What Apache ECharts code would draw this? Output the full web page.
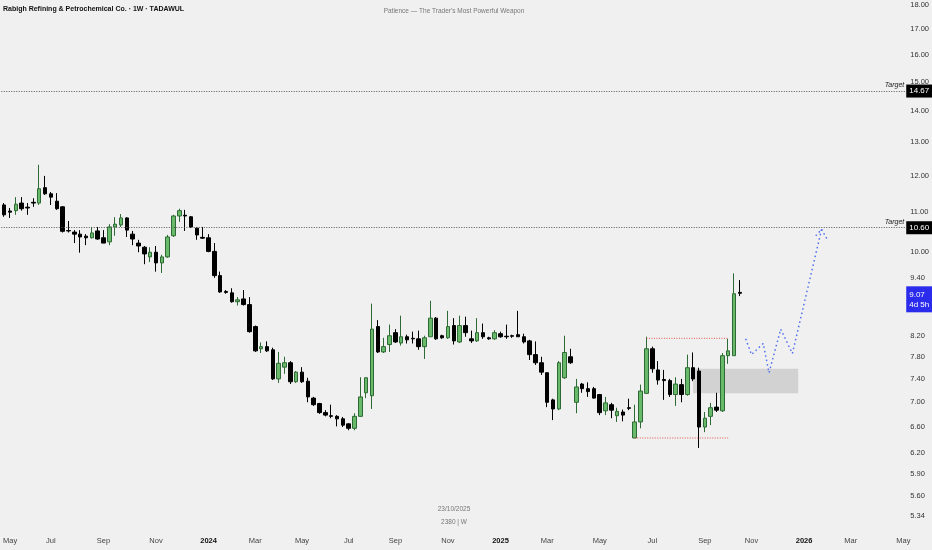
<!DOCTYPE html>
<html>
<head>
<meta charset="utf-8">
<script src="https://cdn.jsdelivr.net/npm/echarts@6/dist/echarts.min.js"></script>
<style>
  html, body { margin: 0; padding: 0; background: #f0f0f0; }
  #chart { width: 932px; height: 550px; }
</style>
</head>
<body>
<div id="chart"></div>
<script>
// weekly bars (Sunday open), weeks with no trading are skipped
var firstWeek = '2023-04-30';
var skippedWeeks = ['2023-06-25', '2024-04-07', '2024-06-16'];
var weekCount = 155;

// [open, high, low, close] for each traded week
var weeklyOHLC = [
    [11.19, 11.24, 10.88, 10.93], [11.03, 11.11, 10.85, 11.00], [11.04, 11.40, 10.93, 11.21], [11.24, 11.40, 11.04, 11.09],
    [11.13, 11.24, 10.93, 11.11], [11.26, 11.37, 11.14, 11.24], [11.24, 12.31, 11.19, 11.63], [11.66, 11.99, 11.46, 11.49],
    [11.49, 11.54, 11.19, 11.40], [11.29, 11.51, 11.06, 11.09], [11.14, 11.16, 10.48, 10.51], [10.53, 10.77, 10.48, 10.52],
    [10.49, 10.54, 10.22, 10.44], [10.44, 10.54, 9.99, 10.37], [10.39, 10.44, 10.17, 10.35], [10.35, 10.62, 10.33, 10.47],
    [10.52, 10.62, 10.30, 10.32], [10.35, 10.54, 10.22, 10.22], [10.25, 10.69, 10.17, 10.62], [10.62, 10.87, 10.40, 10.69],
    [10.67, 10.95, 10.62, 10.85], [10.85, 10.87, 10.37, 10.54], [10.44, 10.52, 10.17, 10.32], [10.22, 10.30, 10.00, 10.15],
    [10.12, 10.15, 9.72, 9.96], [9.89, 10.12, 9.77, 10.00], [10.00, 10.15, 9.55, 9.75], [9.75, 9.94, 9.52, 9.89],
    [9.89, 10.42, 9.87, 10.37], [10.40, 10.93, 10.37, 10.90], [10.90, 11.09, 10.75, 11.04], [10.92, 11.06, 10.52, 10.90],
    [10.88, 10.90, 10.60, 10.62], [10.59, 10.62, 10.30, 10.42], [10.36, 10.62, 10.32, 10.34], [10.35, 10.44, 10.00, 10.02],
    [10.02, 10.22, 9.41, 9.46], [9.46, 9.55, 9.08, 9.10], [9.11, 9.14, 9.06, 9.09], [9.08, 9.18, 8.87, 8.89],
    [8.89, 8.99, 8.81, 8.93], [8.95, 9.14, 8.81, 8.83], [8.83, 8.99, 8.26, 8.28], [8.38, 8.40, 7.89, 7.91],
    [7.95, 8.07, 7.87, 7.99], [7.99, 8.09, 7.89, 7.91], [7.93, 7.97, 7.38, 7.40], [7.40, 7.89, 7.33, 7.68],
    [7.61, 7.80, 7.49, 7.69], [7.69, 7.72, 7.31, 7.35], [7.35, 7.54, 7.33, 7.52], [7.52, 7.61, 7.33, 7.35],
    [7.36, 7.42, 7.00, 7.09], [7.07, 7.09, 6.94, 6.96], [6.98, 6.99, 6.81, 6.83], [6.83, 6.87, 6.77, 6.79],
    [6.78, 6.96, 6.74, 6.77], [6.77, 6.79, 6.61, 6.73], [6.73, 6.76, 6.60, 6.63], [6.65, 6.66, 6.55, 6.58],
    [6.58, 6.82, 6.55, 6.77], [6.77, 7.43, 6.76, 7.09], [7.16, 7.43, 7.07, 7.42], [7.11, 8.85, 6.89, 8.33],
    [8.38, 8.51, 7.87, 7.89], [7.89, 8.16, 7.87, 7.99], [8.03, 8.42, 7.89, 8.20], [8.26, 8.33, 8.06, 8.08],
    [8.06, 8.60, 8.01, 8.18], [8.18, 8.22, 8.05, 8.12], [8.15, 8.28, 8.05, 8.14], [8.14, 8.30, 7.93, 7.99],
    [7.99, 8.20, 7.76, 8.16], [8.18, 8.91, 8.18, 8.55], [8.55, 8.57, 8.12, 8.14], [8.20, 8.22, 8.14, 8.16],
    [8.16, 8.70, 8.14, 8.38], [8.40, 8.55, 8.03, 8.10], [8.08, 8.60, 8.06, 8.40], [8.40, 8.58, 8.18, 8.26],
    [8.14, 8.30, 8.06, 8.10], [8.10, 8.55, 8.08, 8.26], [8.26, 8.44, 8.14, 8.18], [8.16, 8.18, 8.12, 8.14],
    [8.14, 8.31, 8.12, 8.26], [8.24, 8.28, 8.16, 8.18], [8.19, 8.42, 8.14, 8.18], [8.20, 8.22, 8.16, 8.19],
    [8.22, 8.70, 8.18, 8.18], [8.18, 8.24, 8.05, 8.08], [8.10, 8.12, 7.74, 7.84], [7.84, 8.09, 7.65, 7.69],
    [7.69, 7.80, 7.47, 7.52], [7.51, 7.51, 6.92, 7.00], [7.04, 7.06, 6.71, 6.89], [6.89, 7.72, 6.87, 7.69],
    [7.42, 8.20, 7.40, 7.88], [7.80, 7.95, 7.67, 7.69], [7.00, 7.40, 6.82, 7.26], [7.31, 7.33, 7.16, 7.23],
    [7.23, 7.34, 7.09, 7.18], [7.23, 7.26, 7.06, 7.07], [7.13, 7.14, 6.79, 6.83], [6.86, 7.09, 6.79, 6.99],
    [6.96, 6.99, 6.74, 6.87], [6.78, 6.91, 6.68, 6.85], [6.84, 6.88, 6.69, 6.79], [6.91, 7.06, 6.87, 6.90],
    [6.43, 6.96, 6.43, 6.68], [6.68, 7.30, 6.58, 7.19], [7.15, 8.18, 7.14, 7.95], [7.95, 7.99, 7.51, 7.58],
    [7.56, 7.72, 7.30, 7.38], [7.39, 7.56, 7.04, 7.37], [7.37, 7.40, 7.09, 7.13], [7.13, 7.43, 6.94, 7.31],
    [7.30, 7.40, 7.00, 7.13], [7.13, 7.84, 7.11, 7.60], [7.60, 7.88, 7.36, 7.40], [7.54, 7.60, 6.28, 6.60],
    [6.60, 6.84, 6.52, 6.74], [6.77, 6.99, 6.63, 6.91], [6.92, 7.16, 6.84, 6.87], [6.86, 7.87, 6.84, 7.82],
    [7.82, 8.14, 7.67, 7.91], [7.82, 9.51, 7.82, 9.06], [9.09, 9.36, 9.01, 9.07]
];

// price scale
var priceMin = 5.167, priceMax = 18.215;
var priceTicks = [18, 17, 16, 15, 14, 13, 12, 11, 10, 9.4, 8.8, 8.2, 7.8, 7.4, 7.0, 6.6, 6.2, 5.9, 5.6, 5.34];
var monthNames = ['Jan', 'Feb', 'Mar', 'Apr', 'May', 'Jun', 'Jul', 'Aug', 'Sep', 'Oct', 'Nov', 'Dec'];

// drawings
var targets = [14.67, 10.60];
var lastPrice = 9.07, barCountdown = '4d 5h';
var rangeHigh = 8.15, rangeHighBars = [110, 124];
var rangeLow = 6.43, rangeLowBars = [108, 124];
var zoneTop = 7.58, zoneBottom = 7.15, zoneBars = [118, 136];
var pathBars = [127, 128, 130, 131, 133, 135, 140];
var pathPrices = [8.14, 7.84, 8.05, 7.51, 8.33, 7.86, 10.56];
var arrowBars = [140, 141], arrowPrices = [10.56, 10.30];
var arrowBars2 = [139, 140], arrowPrices2 = [10.40, 10.56];

// build week list
var weeks = [];
var d = new Date(firstWeek + 'T00:00:00Z');
while (weeks.length < weekCount) {
    var s = d.toISOString().slice(0, 10);
    if (skippedWeeks.indexOf(s) < 0) weeks.push(s);
    d = new Date(d.getTime() + 7 * 86400000);
}

var candleData = weeklyOHLC.map(function (r) {
    return [r[0], r[3], r[2], r[1]];
});

function pairs(xs, ys) {
    return xs.map(function (x, i) { return [x, ys[i]]; });
}

var FONT = '"Liberation Sans Narrow", "Liberation Sans", Arial, sans-serif';
var CLEAR = 'rgba(0,0,0,0)';

var chart = echarts.init(document.getElementById('chart'));

var targetLines = [];
targets.forEach(function (t) {
    targetLines.push({
        yAxis: t,
        lineStyle: {type: [1, 1.5], color: '#555', width: 1},
        label: {show: true, position: 'insideEndTop', distance: 2, formatter: 'Target',
            color: '#222', fontSize: 7, fontStyle: 'italic', fontFamily: FONT}
    });
});

var badges = targets.map(function (t) {
    return {
        yAxis: t,
        lineStyle: {color: CLEAR},
        label: {show: true, position: 'end', distance: 0, formatter: t.toFixed(2),
            color: '#fff', backgroundColor: '#000', padding: [3, 3, 2, 3],
            fontSize: 8, fontFamily: FONT}
    };
});
badges.push({
    yAxis: lastPrice,
    lineStyle: {color: CLEAR},
    label: {show: true, position: 'end', distance: 0, offset: [0, 6],
        formatter: lastPrice.toFixed(2) + '\n' + barCountdown,
        color: '#fff', backgroundColor: '#2b2bee', padding: [3, 3, 3, 3], lineHeight: 10,
        fontSize: 8, fontFamily: FONT}
});

var option = {
    backgroundColor: '#f0f0f0',
    animation: false,
    grid: {left: -3, right: 23.4, top: 0, bottom: 20},
    xAxis: {
        type: 'category',
        data: weeks,
        boundaryGap: true,
        axisLine: {show: false},
        axisTick: {show: false},
        splitLine: {show: false},
        axisLabel: {
            margin: 7,
            fontSize: 7.5,
            color: '#444',
            fontFamily: FONT,
            interval: function (i, v) {
                if (i === 0) return false;
                var m = +v.slice(5, 7), pm = +weeks[i - 1].slice(5, 7);
                return m !== pm && m % 2 === 1;
            },
            formatter: function (v) {
                var m = +v.slice(5, 7);
                if (m === 1) return '{y|' + v.slice(0, 4) + '}';
                return monthNames[m - 1];
            },
            rich: {y: {fontWeight: 'bold', color: '#111', fontSize: 7.5, fontFamily: FONT}}
        }
    },
    yAxis: [
        {
            type: 'log',
            min: priceMin,
            max: priceMax,
            position: 'left',
            show: false,
            splitLine: {show: false}
        },
        {
            type: 'value',
            min: Math.log(priceMin),
            max: Math.log(priceMax),
            position: 'right',
            axisLine: {show: false},
            axisTick: {show: false},
            splitLine: {show: false},
            axisLabel: {
                margin: 4,
                fontSize: 7.5,
                color: '#333',
                fontFamily: FONT,
                customValues: priceTicks.map(Math.log),
                formatter: function (v) { return Math.exp(v).toFixed(2); }
            }
        }
    ],
    series: [
        {
            type: 'candlestick',
            yAxisIndex: 0,
            data: candleData,
            barWidth: 4,
            itemStyle: {
                color: '#69b96b',
                color0: '#000000',
                borderColor: '#2e6a33',
                borderColor0: '#000000',
                borderWidth: 1
            },
            markLine: {
                silent: true,
                symbol: ['none', 'none'],
                data: targetLines
            },
            markArea: {
                silent: true,
                itemStyle: {color: 'rgba(150,150,150,0.33)'},
                data: [[{coord: [zoneBars[0], zoneTop]}, {coord: [zoneBars[1], zoneBottom]}]]
            }
        },
        {
            type: 'line', yAxisIndex: 0, silent: true, symbol: 'none', clip: false,
            data: [],
            markLine: {
                silent: true,
                symbol: ['none', 'none'],
                data: badges
            },
            z: 5
        },
        {
            type: 'line', yAxisIndex: 0, silent: true, symbol: 'none',
            data: pairs(rangeHighBars, [rangeHigh, rangeHigh]),
            lineStyle: {color: '#e05050', width: 1, type: [1, 1.5]}
        },
        {
            type: 'line', yAxisIndex: 0, silent: true, symbol: 'none',
            data: pairs(rangeLowBars, [rangeLow, rangeLow]),
            lineStyle: {color: '#e05050', width: 1, type: [1, 1.5]}
        },
        {
            type: 'line', yAxisIndex: 0, silent: true, symbol: 'none',
            data: pairs(pathBars, pathPrices),
            lineStyle: {color: '#4f6ff0', width: 1.5, type: [1.5, 3]}
        },
        {
            type: 'line', yAxisIndex: 0, silent: true, symbol: 'none',
            data: pairs(arrowBars, arrowPrices),
            lineStyle: {color: '#4f6ff0', width: 1.5, type: [1.5, 3]}
        },
        {
            type: 'line', yAxisIndex: 0, silent: true, symbol: 'none',
            data: pairs(arrowBars2, arrowPrices2),
            lineStyle: {color: '#4f6ff0', width: 1.5, type: [1.5, 3]}
        }
    ],
    graphic: [
        {type: 'text', x: 3, y: 9, style: {text: 'Rabigh Refining & Petrochemical Co. · 1W · TADAWUL',
            fontSize: 7, fontWeight: 'bold', fontFamily: FONT, fill: '#111', verticalAlign: 'middle'}},
        {type: 'text', x: 454, y: 11, style: {text: 'Patience \u2014 The Trader\'s Most Powerful Weapon',
            fontSize: 6.5, fontFamily: FONT, fill: '#777', align: 'center', verticalAlign: 'middle'}},
        {type: 'text', x: 454, y: 509, style: {text: '23/10/2025',
            fontSize: 6.5, fontFamily: FONT, fill: '#777', align: 'center', verticalAlign: 'middle'}},
        {type: 'text', x: 454, y: 522, style: {text: '2380 | W',
            fontSize: 6.5, fontFamily: FONT, fill: '#777', align: 'center', verticalAlign: 'middle'}}
    ]
};

chart.setOption(option);
</script>
</body>
</html>
